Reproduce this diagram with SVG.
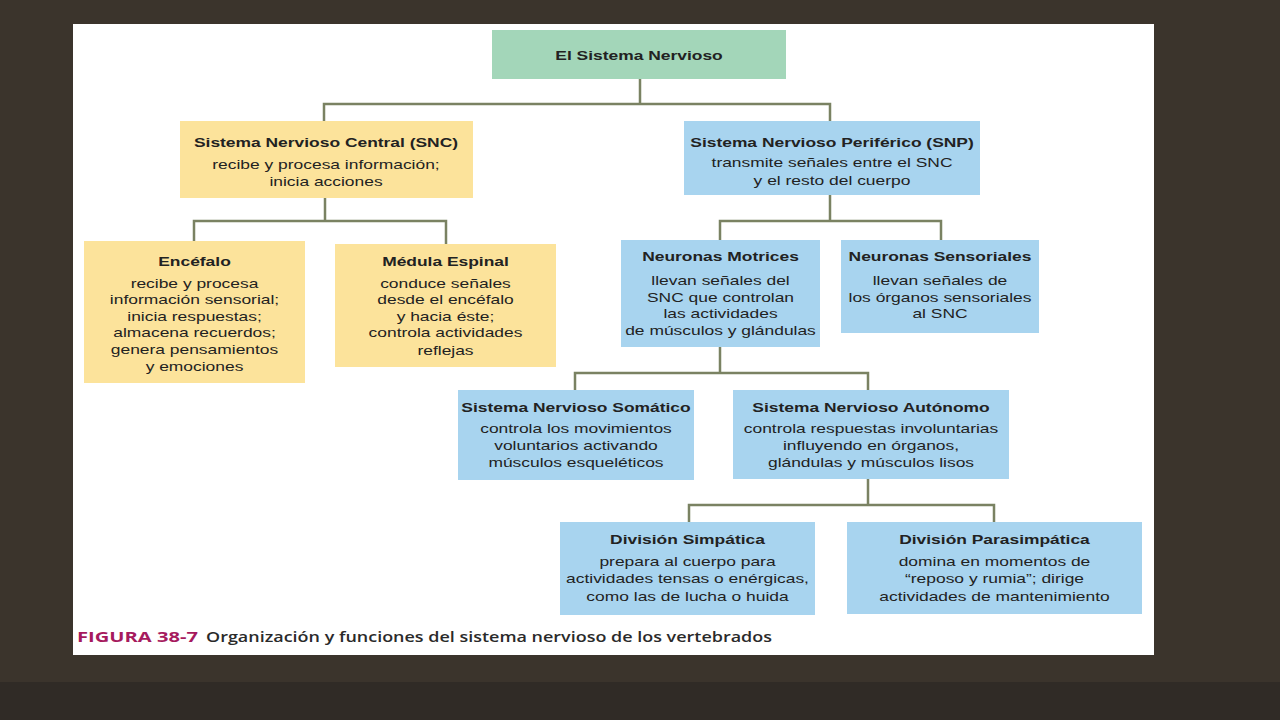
<svg xmlns="http://www.w3.org/2000/svg" width="1280" height="720" viewBox="0 0 1280 720">
<style>
.t{font-family:"Liberation Sans",Arial,sans-serif;font-size:13px;fill:#222;text-anchor:middle}
.b{font-weight:bold}
.g{fill:#a3d6b9}
.y{fill:#fce39b}
.bl{fill:#a8d4ef}
.c{fill:none;stroke:#7a8262;stroke-width:2.5}
.cap{font-family:"Open Sans","Liberation Sans",sans-serif;font-size:14px;font-weight:600;fill:#2a2a2a}
</style>
<rect x="0" y="0" width="1280" height="720" fill="#3b342c"/>
<rect x="0" y="682" width="1280" height="38" fill="#302b26"/>
<rect x="73" y="24" width="1081" height="631" fill="#ffffff"/>

<g id="connectors">
<path class="c" d="M640 79V104M324 121V104H830V121"/>
<path class="c" d="M325 198V221M194 241V221H446V244"/>
<path class="c" d="M830 195V221M720 240V221H941V240"/>
<path class="c" d="M720 347V373M575 390V373H868V390"/>
<path class="c" d="M868 479V505M689 522V505H994V522"/>
</g>

<g id="root">
<rect class="g" x="492" y="30" width="294" height="49"/>
<g transform="translate(639 0) scale(1.34 1)"><text class="t b" x="0" y="60">El Sistema Nervioso</text></g>
</g>

<g id="snc">
<rect class="y" x="180" y="121" width="293" height="77"/>
<g transform="translate(326 0) scale(1.34 1)">
<text class="t b" x="0" y="147">Sistema Nervioso Central (SNC)</text>
<text class="t" x="0" y="169">recibe y procesa información;</text>
<text class="t" x="0" y="186">inicia acciones</text>
</g>
</g>

<g id="snp">
<rect class="bl" x="684" y="121" width="296" height="74"/>
<g transform="translate(832 0) scale(1.34 1)">
<text class="t b" x="0" y="147">Sistema Nervioso Periférico (SNP)</text>
<text class="t" x="0" y="167">transmite señales entre el SNC</text>
<text class="t" x="0" y="185">y el resto del cuerpo</text>
</g>
</g>

<g id="encefalo">
<rect class="y" x="84" y="241" width="221" height="142"/>
<g transform="translate(194.5 0) scale(1.34 1)">
<text class="t b" x="0" y="266">Encéfalo</text>
<text class="t" x="0" y="288">recibe y procesa</text>
<text class="t" x="0" y="304">información sensorial;</text>
<text class="t" x="0" y="321">inicia respuestas;</text>
<text class="t" x="0" y="337">almacena recuerdos;</text>
<text class="t" x="0" y="354">genera pensamientos</text>
<text class="t" x="0" y="371">y emociones</text>
</g>
</g>

<g id="medula">
<rect class="y" x="335" y="244" width="221" height="123"/>
<g transform="translate(445.5 0) scale(1.34 1)">
<text class="t b" x="0" y="266">Médula Espinal</text>
<text class="t" x="0" y="288">conduce señales</text>
<text class="t" x="0" y="304">desde el encéfalo</text>
<text class="t" x="0" y="321">y hacia éste;</text>
<text class="t" x="0" y="337">controla actividades</text>
<text class="t" x="0" y="355">reflejas</text>
</g>
</g>

<g id="motrices">
<rect class="bl" x="621" y="240" width="199" height="107"/>
<g transform="translate(720.5 0) scale(1.34 1)">
<text class="t b" x="0" y="261">Neuronas Motrices</text>
<text class="t" x="0" y="285">llevan señales del</text>
<text class="t" x="0" y="302">SNC que controlan</text>
<text class="t" x="0" y="318">las actividades</text>
<text class="t" x="0" y="335">de músculos y glándulas</text>
</g>
</g>

<g id="sensoriales">
<rect class="bl" x="841" y="240" width="198" height="93"/>
<g transform="translate(940 0) scale(1.34 1)">
<text class="t b" x="0" y="261">Neuronas Sensoriales</text>
<text class="t" x="0" y="285">llevan señales de</text>
<text class="t" x="0" y="302">los órganos sensoriales</text>
<text class="t" x="0" y="318">al SNC</text>
</g>
</g>

<g id="somatico">
<rect class="bl" x="458" y="390" width="236" height="90"/>
<g transform="translate(576 0) scale(1.34 1)">
<text class="t b" x="0" y="412">Sistema Nervioso Somático</text>
<text class="t" x="0" y="433">controla los movimientos</text>
<text class="t" x="0" y="450">voluntarios activando</text>
<text class="t" x="0" y="467">músculos esqueléticos</text>
</g>
</g>

<g id="autonomo">
<rect class="bl" x="733" y="390" width="276" height="89"/>
<g transform="translate(871 0) scale(1.34 1)">
<text class="t b" x="0" y="412">Sistema Nervioso Autónomo</text>
<text class="t" x="0" y="433">controla respuestas involuntarias</text>
<text class="t" x="0" y="450">influyendo en órganos,</text>
<text class="t" x="0" y="467">glándulas y músculos lisos</text>
</g>
</g>

<g id="simpatica">
<rect class="bl" x="560" y="522" width="255" height="93"/>
<g transform="translate(687.5 0) scale(1.34 1)">
<text class="t b" x="0" y="544">División Simpática</text>
<text class="t" x="0" y="566">prepara al cuerpo para</text>
<text class="t" x="0" y="583">actividades tensas o enérgicas,</text>
<text class="t" x="0" y="601">como las de lucha o huida</text>
</g>
</g>

<g id="parasimpatica">
<rect class="bl" x="847" y="522" width="295" height="92"/>
<g transform="translate(994.5 0) scale(1.34 1)">
<text class="t b" x="0" y="544">División Parasimpática</text>
<text class="t" x="0" y="566">domina en momentos de</text>
<text class="t" x="0" y="583">“reposo y rumia”; dirige</text>
<text class="t" x="0" y="601">actividades de mantenimiento</text>
</g>
</g>

<g id="caption">
<text class="cap" x="77" y="642" fill="#a61a5e" style="fill:#a61a5e;font-weight:700" textLength="121" lengthAdjust="spacingAndGlyphs">FIGURA 38-7</text>
<text class="cap" x="206" y="642" textLength="566" lengthAdjust="spacingAndGlyphs">Organización y funciones del sistema nervioso de los vertebrados</text>
</g>
</svg>
